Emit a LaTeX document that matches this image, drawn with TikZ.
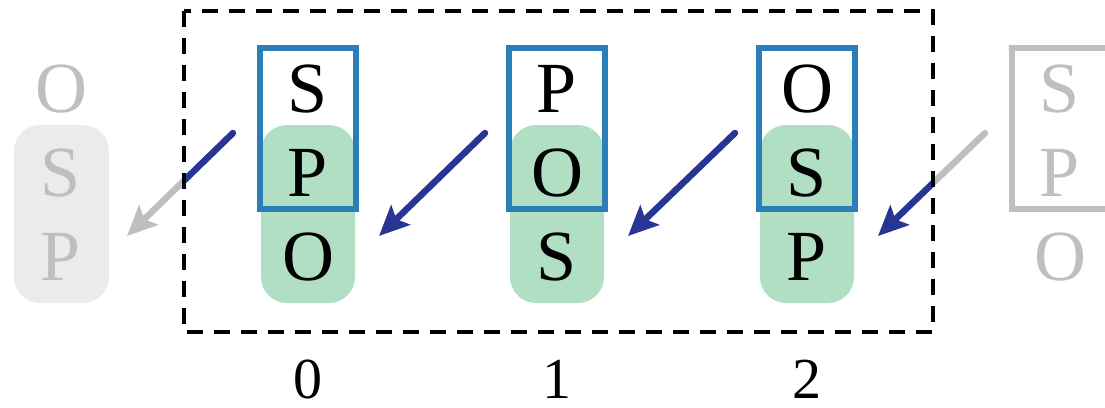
\documentclass[tikz,border=0pt]{standalone}
\usepackage{fontspec}
\setmainfont{Liberation Serif}
\usetikzlibrary{arrows.meta}
\definecolor{boxblue}{RGB}{43,127,184}
\definecolor{slotgreen}{RGB}{176,223,196}
\definecolor{arrowblue}{RGB}{40,53,147}
\definecolor{ghost}{RGB}{191,191,191}
\definecolor{ghostfill}{RGB}{235,235,235}
\begin{document}
\begin{tikzpicture}[x=1pt,y=-1pt,
  letter/.style={font=\fontsize{72}{80}\selectfont, anchor=base, inner sep=0pt},
  ghostletter/.style={letter, text=ghost},
  index/.style={font=\fontsize{58}{64}\selectfont, anchor=base, inner sep=0pt},
  window/.style={draw=boxblue, line width=6.5pt},
  ghostwindow/.style={draw=ghost, line width=5.5pt},
  slot/.style={fill=slotgreen, rounded corners=26pt},
  ghostslot/.style={fill=ghostfill, rounded corners=26pt},
  move/.style={line width=6.5pt, line cap=round, -{Stealth[length=30pt,width=27pt,inset=6pt]}},
  dashframe/.style={draw=black, line width=3.5pt, dash pattern=on 16pt off 11pt}
]
\useasboundingbox (0,0) rectangle (1105,407);

% green two-letter slots under each column
\fill[ghostslot] (14,125) rectangle (109,303);
\fill[slot] (261,125) rectangle (355,303);
\fill[slot] (510,125) rectangle (604,303);
\fill[slot] (760,125) rectangle (854,303);

% letters, three rows per column
\node[ghostletter] (gl1) at (61,112) {O};
\node[ghostletter] (gl2) at (61,196) {S};
\node[ghostletter] (gl3) at (61,280) {P};

\node[letter] (a1) at (308,112) {S};
\node[letter] (a2) at (308,196) {P};
\node[letter] (a3) at (308,280) {O};

\node[letter] (b1) at (557,112) {P};
\node[letter] (b2) at (557,196) {O};
\node[letter] (b3) at (557,280) {S};

\node[letter] (c1) at (807,112) {O};
\node[letter] (c2) at (807,196) {S};
\node[letter] (c3) at (807,280) {P};

\node[ghostletter] (gr1) at (1060,112) {S};
\node[ghostletter] (gr2) at (1060,196) {P};
\node[ghostletter] (gr3) at (1060,280) {O};

% two-letter windows
\draw[window] (260,48) rectangle (356,209);
\draw[window] (509,48) rectangle (605,209);
\draw[window] (759,48) rectangle (855,209);
\draw[ghostwindow] (1012,48) rectangle (1108,209);

% column indices
\node[index] (i0) at (308,398) {0};
\node[index] (i1) at (557,398) {1};
\node[index] (i2) at (807,398) {2};

% arrow end points
\coordinate (t0) at (233,133);
\coordinate (hL) at (127,236);
\coordinate (t1) at (485,133);
\coordinate (h0) at (379,236);
\coordinate (t2) at (735,133);
\coordinate (h1) at (628,236);
\coordinate (tR) at (985,133);
\coordinate (h2) at (878,236);

\draw[move, arrowblue] (t1) -- (h0);
\draw[move, arrowblue] (t2) -- (h1);

% arrows crossing the frame: blue inside, grey outside
\begin{scope}
  \clip (184,0) rectangle (933,407);
  \draw[move, arrowblue] (t0) -- (hL);
  \draw[move, arrowblue] (tR) -- (h2);
\end{scope}
\begin{scope}
  \clip (-10,-10) rectangle (184,420) (933,-10) rectangle (1120,420);
  \draw[move, ghost] (t0) -- (hL);
  \draw[move, ghost] (tR) -- (h2);
\end{scope}

% dashed frame around the three columns
\coordinate (f1) at (184,11);
\coordinate (f2) at (933,332);
\draw[dashframe] (f1) rectangle (f2);
\end{tikzpicture}
\end{document}
